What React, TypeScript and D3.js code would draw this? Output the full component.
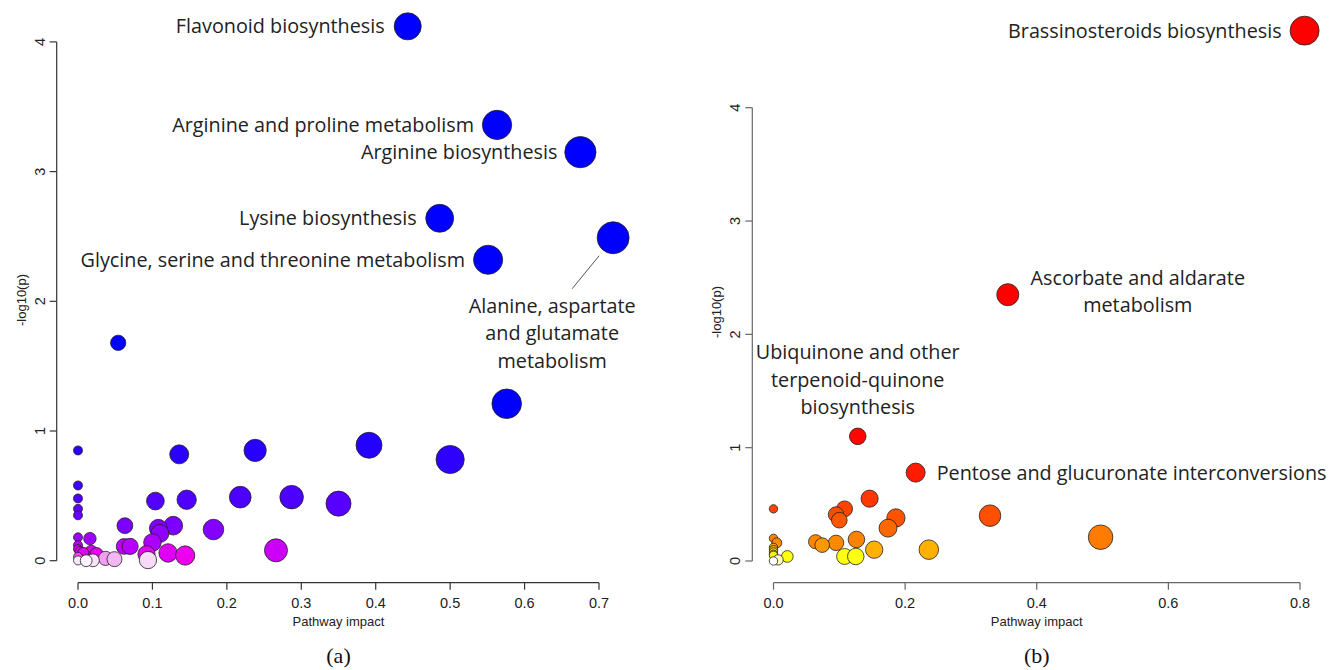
import React from "react";
import * as d3 from "d3";

// ---------- Panel (a) data ----------
const leftImpact = [
  0.443, 0.563, 0.675, 0.486, 0.551, 0.719, 0.054, 0.576, 0.391, 0.5,
  0.35, 0.287, 0.238, 0.218, 0.136, 0.146, 0.104, 0.182, 0.128, 0.108,
  0.11, 0.1, 0.063, 0.062, 0.07, 0.266, 0.121, 0.144, 0.092, 0.094,
  0.049, 0.037, 0.011, 0.02, 0.025, 0.018, 0.016, 0, 0, 0,
  0, 0, 0, 0, 0, 0.003, 0, 0, 0.007,
];
const leftLogP = [
  4.12, 3.36, 3.15, 2.64, 2.32, 2.49, 1.68, 1.21, 0.89, 0.78,
  0.44, 0.49, 0.85, 0.49, 0.82, 0.47, 0.46, 0.24, 0.27, 0.25,
  0.21, 0.14, 0.27, 0.11, 0.11, 0.08, 0.06, 0.04, 0.05, 0.005,
  0.012, 0.018, 0.0, 0.003, 0.05, 0.07, 0.17, 0.85, 0.58, 0.48,
  0.4, 0.35, 0.18, 0.12, 0.09, 0.07, 0.03, 0.002, 0.06,
];
const leftLabels = [
  "Flavonoid biosynthesis",
  "Arginine and proline metabolism",
  "Arginine biosynthesis",
  "Lysine biosynthesis",
  "Glycine, serine and threonine metabolism",
  "Alanine, aspartate|and glutamate|metabolism",
];
const leftXTicks = [0, 0.1, 0.2, 0.3, 0.4, 0.5, 0.6, 0.7];
const leftYTicks = [0, 1, 2, 3, 4];

// ---------- Panel (b) data ----------
const rightImpact = [
  0.807, 0.356, 0.128, 0.216, 0.146, 0.108, 0.095, 0.1, 0.186, 0.174,
  0.329, 0.0, 0.497, 0.126, 0.095, 0.064, 0.074, 0.153, 0.236, 0.108,
  0.125, 0.021, 0.0, 0.005, 0.0, 0.0, 0.0, 0.0, 0.0, 0.0, 0.007,
];
const rightLogP = [
  4.68, 2.35, 1.1, 0.78, 0.55, 0.46, 0.41, 0.36, 0.38, 0.29,
  0.4, 0.46, 0.21, 0.19, 0.16, 0.17, 0.14, 0.1, 0.1, 0.04,
  0.04, 0.04, 0.2, 0.16, 0.12, 0.1, 0.08, 0.06, 0.05, 0.0, 0.01,
];
const rightLabels = [
  "Brassinosteroids biosynthesis",
  "Ascorbate and aldarate|metabolism",
  "Ubiquinone and other|terpenoid-quinone|biosynthesis",
  "Pentose and glucuronate interconversions",
];
const rightXTicks = [0, 0.2, 0.4, 0.6, 0.8];
const rightYTicks = [0, 1, 2, 3, 4];

// label placement (style): anchor relative to the point
type Place = { mode: "left" | "right" | "block"; dx?: number; dy?: number; leader?: [number, number, number, number] };
const leftPlace: Place[] = [
  { mode: "left" },
  { mode: "left" },
  { mode: "left" },
  { mode: "left" },
  { mode: "left" },
  { mode: "block", dx: -61, dy: 68, leader: [-14, 18, -41, 51] },
];
const rightPlace: Place[] = [
  { mode: "left" },
  { mode: "block", dx: 130, dy: -17 },
  { mode: "block", dx: 0, dy: -84 },
  { mode: "right" },
];

const LABEL_FONT = "'Open Sans', 'Noto Sans', sans-serif";
const AXIS_FONT = "'Liberation Sans', Arial, sans-serif";
const LABEL_SIZE = 19.8;

type PanelProps = {
  impact: number[];
  logp: number[];
  labels: string[];
  place: Place[];
  x: d3.ScaleLinear<number, number>;
  y: d3.ScaleLinear<number, number>;
  r: d3.ScalePower<number, number>;
  color: (v: number) => string;
  xTicks: number[];
  yTicks: number[];
  axisX0: number;
  axisY0: number;
  axisColor: string;
  ylabY: number;
  letter: string;
};

function Panel(p: PanelProps) {
  const idx = d3.range(p.impact.length).sort((a, b) => p.logp[b] - p.logp[a]);
  const fmtX = (v: number) => v.toFixed(1);
  const xMid = (p.x(p.xTicks[0]) + p.x(p.xTicks[p.xTicks.length - 1])) / 2;
  return (
    <g>
      {/* x axis */}
      <line x1={p.x(p.xTicks[0])} x2={p.x(p.xTicks[p.xTicks.length - 1])} y1={p.axisY0} y2={p.axisY0} stroke={p.axisColor} strokeWidth={1.2} />
      {p.xTicks.map((t) => (
        <g key={"xt" + t}>
          <line x1={p.x(t)} x2={p.x(t)} y1={p.axisY0} y2={p.axisY0 + 7} stroke={p.axisColor} strokeWidth={1.2} />
          <text x={p.x(t)} y={608} textAnchor="middle" fontFamily={AXIS_FONT} fontSize={14.5} fill="#222">{fmtX(t)}</text>
        </g>
      ))}
      <text x={xMid} y={626} textAnchor="middle" fontFamily={AXIS_FONT} fontSize={13} fill="#222">Pathway impact</text>
      <text x={xMid} y={663} textAnchor="middle" fontFamily="'Liberation Serif', 'DejaVu Serif', serif" fontSize={22} fill="#111">({p.letter})</text>
      {/* y axis */}
      <line x1={p.axisX0} x2={p.axisX0} y1={p.y(p.yTicks[0])} y2={p.y(p.yTicks[p.yTicks.length - 1])} stroke={p.axisColor} strokeWidth={1.2} />
      {p.yTicks.map((t) => (
        <g key={"yt" + t}>
          <line x1={p.axisX0 - 7} x2={p.axisX0} y1={p.y(t)} y2={p.y(t)} stroke={p.axisColor} strokeWidth={1.2} />
          <text transform={`translate(${p.axisX0 - 12},${p.y(t)}) rotate(-90)`} textAnchor="middle" fontFamily={AXIS_FONT} fontSize={14.5} fill="#222">{t}</text>
        </g>
      ))}
      <text transform={`translate(${p.axisX0 - 31},${p.ylabY}) rotate(-90)`} textAnchor="middle" fontFamily={AXIS_FONT} fontSize={13} fill="#222">-log10(p)</text>
      {/* bubbles */}
      {idx.map((i) => (
        <circle key={"c" + i} cx={p.x(p.impact[i])} cy={p.y(p.logp[i])} r={p.r(p.impact[i])} fill={p.color(p.logp[i])} stroke="#222" strokeWidth={0.8} />
      ))}
      {/* labels */}
      {p.labels.map((lab, i) => {
        const cx = p.x(p.impact[i]);
        const cy = p.y(p.logp[i]);
        const pl = p.place[i];
        const lines = lab.split("|");
        if (pl.mode === "left")
          return (
            <text key={"l" + i} x={cx - 23} y={cy} dy="0.36em" textAnchor="end" fontFamily={LABEL_FONT} fontSize={LABEL_SIZE} fill="#222">{lab}</text>
          );
        if (pl.mode === "right")
          return (
            <text key={"l" + i} x={cx + 21} y={cy} dy="0.36em" textAnchor="start" fontFamily={LABEL_FONT} fontSize={LABEL_SIZE} fill="#222">{lab}</text>
          );
        return (
          <g key={"l" + i}>
            {pl.leader && (
              <line x1={cx + pl.leader[0]} y1={cy + pl.leader[1]} x2={cx + pl.leader[2]} y2={cy + pl.leader[3]} stroke="#555" strokeWidth={1} />
            )}
            {lines.map((ln, k) => (
              <text key={k} x={cx + (pl.dx || 0)} y={cy + (pl.dy || 0) + k * 27.5} dy="0.36em" textAnchor="middle" fontFamily={LABEL_FONT} fontSize={LABEL_SIZE} fill="#222">{ln}</text>
            ))}
          </g>
        );
      })}
    </g>
  );
}

export default function App() {
  const xL = d3.scaleLinear().domain([0, 0.7]).range([78, 599]);
  const yL = d3.scaleLinear().domain([0, 4]).range([560.7, 41.9]);
  const rL = d3.scalePow().exponent(0.5).domain([0, 0.72]).range([4.5, 16]);
  const cL = d3
    .scaleLinear<string>()
    .domain([0, 0.01, 0.02, 0.04, 0.1, 0.25, 0.5, 0.9, 1.2])
    .range(["#fcf2fc", "#f4c0f4", "#f094f0", "#ee00ee", "#bb00ff", "#8000ff", "#4a00ff", "#2200ff", "#0000ff"])
    .clamp(true);

  const xR = d3.scaleLinear().domain([0, 0.8]).range([773.5, 1300]);
  const yR = d3.scaleLinear().domain([0, 4]).range([561, 107.7]);
  const rR = d3.scalePow().exponent(0.5).domain([0, 0.81]).range([4.2, 14.5]);
  const cR = d3
    .scaleLinear<string>()
    .domain([0, 0.01, 0.04, 0.1, 0.16, 0.3, 0.45, 0.6, 0.8, 1.2])
    .range(["#ffffff", "#ffffb0", "#ffff10", "#ffb000", "#ff8a00", "#ff6400", "#ff4400", "#ff3000", "#ff1800", "#ff0000"])
    .clamp(true);

  return (
    <svg width={1337} height={670} style={{ position: "absolute", left: 0, top: 0, background: "#fff" }}>
      <rect width={1337} height={670} fill="#fff" />
      <Panel impact={leftImpact} logp={leftLogP} labels={leftLabels} place={leftPlace} x={xL} y={yL} r={rL} color={cL}
        xTicks={leftXTicks} yTicks={leftYTicks} axisX0={56.7} axisY0={582.7} axisColor="#333" ylabY={300} letter="a" />
      <Panel impact={rightImpact} logp={rightLogP} labels={rightLabels} place={rightPlace} x={xR} y={yR} r={rR} color={cR}
        xTicks={rightXTicks} yTicks={rightYTicks} axisX0={752.3} axisY0={582.7} axisColor="#666" ylabY={312} letter="b" />
    </svg>
  );
}
